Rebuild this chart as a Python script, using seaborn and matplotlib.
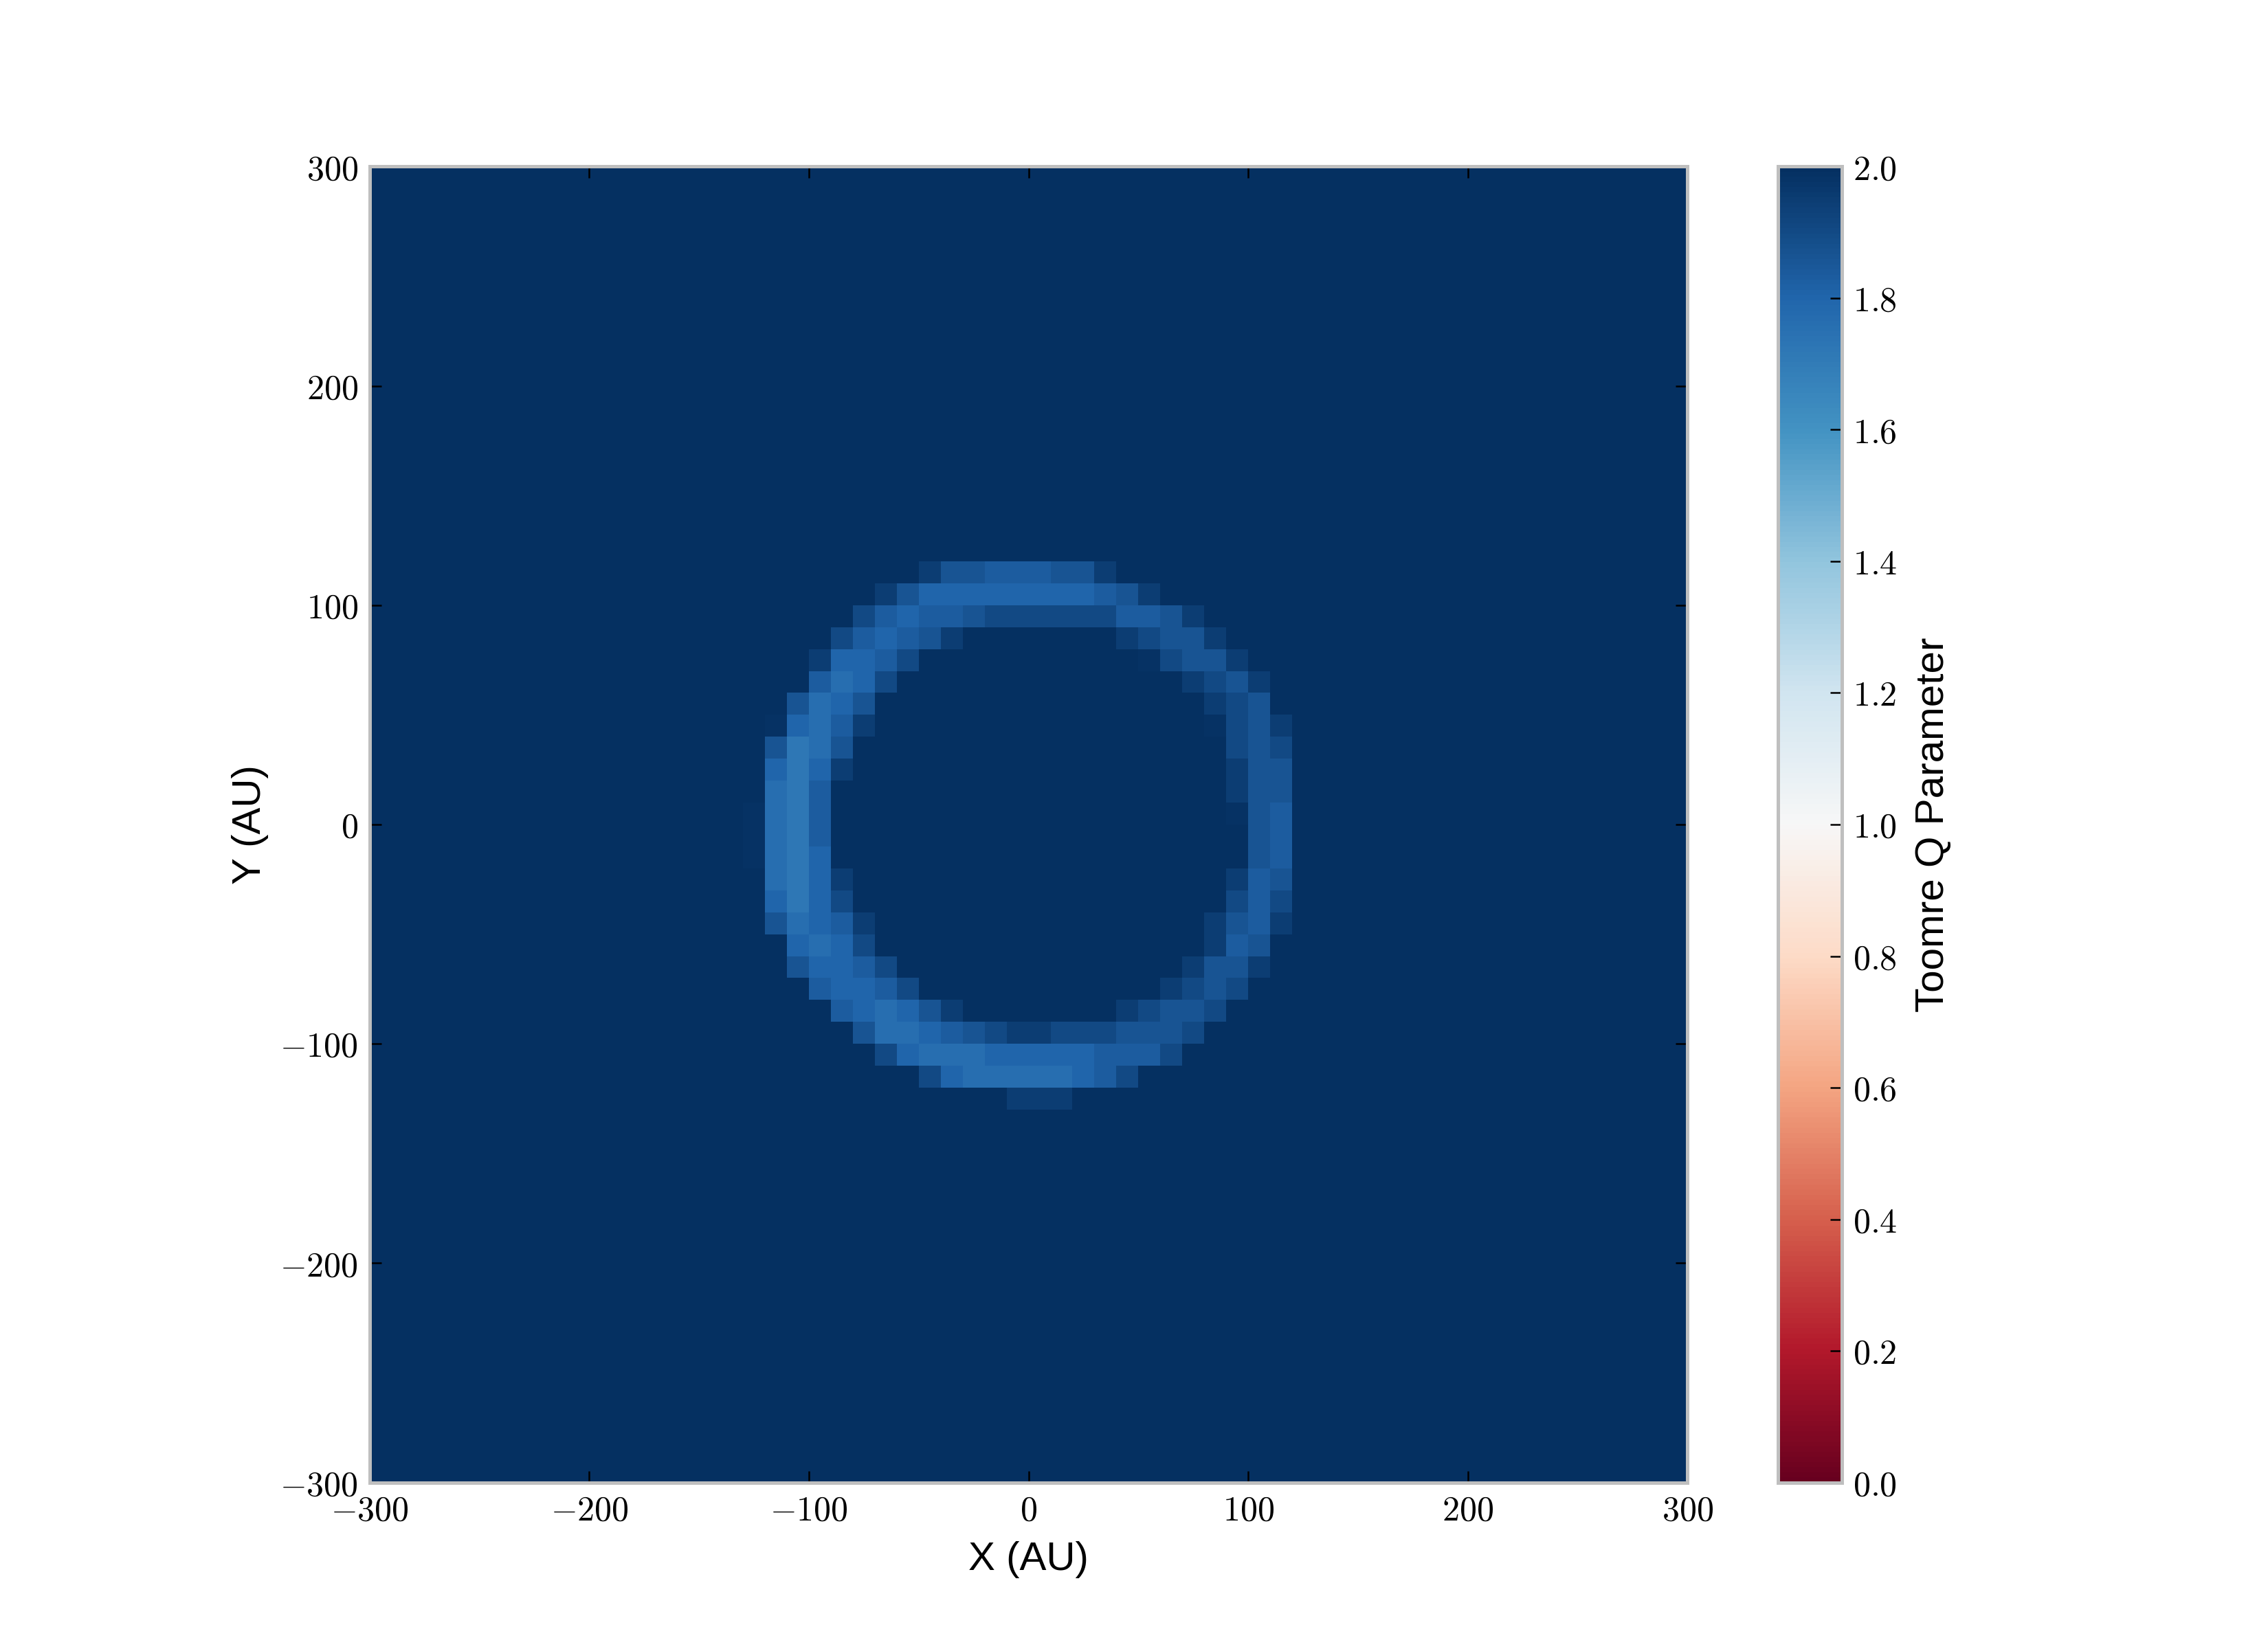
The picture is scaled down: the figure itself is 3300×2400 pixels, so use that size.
import numpy as np
import pandas as pd
import seaborn as sns
import matplotlib.pyplot as plt

# Toomre Q map: 60 x 60 cells of 10 AU from -300 to 300 AU
cell_au = 10
extent_au = 300
q_background = 2.0

# codes used in the ring map below -> Q value
q_levels = {'.': 2.0, '0': 1.985, '1': 1.95, '2': 1.90, '3': 1.86,
            '4': 1.83, '5': 1.80, '6': 1.76, '7': 1.72}

# ring block, rows from y=130 down to y=-130, columns from x=-130 to x=130
ring_left_au = -130
ring_top_au = 130
ring_map = [
    "..........................",
    "........133444331.........",
    "......1355555555431.......",
    ".....2454432222224431.....",
    "....245431.......12331....",
    "...15542..........02331...",
    "...4652.............1231..",
    "..3653...............123..",
    ".05641...............0231.",
    ".3763.................232.",
    ".5751.................133.",
    ".674..................133.",
    "0674..................034.",
    "0674...................34.",
    "0675...................34.",
    ".6751.................143.",
    ".5752.................242.",
    ".36541...............1341.",
    "..5652...............143..",
    "..35542.............1331..",
    "...45542...........1232...",
    "....456531.......12332....",
    ".....3665432112223332.....",
    "......25666555554442......",
    "........2566666542........",
    "............111...........",
]

x_ticks = [-300, -200, -100, 0, 100, 200, 300]
y_ticks = [300, 200, 100, 0, -100, -200, -300]
cbar_ticks = [0.0, 0.2, 0.4, 0.6, 0.8, 1.0, 1.2, 1.4, 1.6, 1.8, 2.0]

n = 2 * extent_au // cell_au
q = np.full((n, n), q_background)
r0 = (extent_au - ring_top_au) // cell_au
c0 = (ring_left_au + extent_au) // cell_au
for i, row in enumerate(ring_map):
    for j, ch in enumerate(row):
        q[r0 + i, c0 + j] = q_levels[ch]

centres = np.arange(-extent_au + cell_au / 2, extent_au, cell_au)
df = pd.DataFrame(q, index=centres[::-1], columns=centres)

plt.rcParams['mathtext.fontset'] = 'cm'
sans = ['Liberation Sans', 'DejaVu Sans']

fig = plt.figure(figsize=(11, 8), dpi=300)
ax = fig.add_axes([0.163, 0.101, 0.581, 0.798])
cax = fig.add_axes([0.784, 0.101, 0.028, 0.798])

sns.heatmap(df, ax=ax, cbar_ax=cax, cmap='RdBu', vmin=0, vmax=2,
            xticklabels=False, yticklabels=False)

edge = '#bfbfbf'
for s in ax.spines.values():
    s.set_visible(True)
    s.set_color(edge)
    s.set_linewidth(1.2)

ax.set_xticks([(t + extent_au) / cell_au for t in x_ticks])
ax.set_xticklabels([r'$%d$' % t for t in x_ticks], rotation=0)
ax.set_yticks([(extent_au - t) / cell_au for t in y_ticks])
ax.set_yticklabels([r'$%d$' % t for t in y_ticks], rotation=0)
ax.tick_params(direction='in', top=True, right=True, bottom=True, left=True,
               length=4, width=0.6, color='black', labelsize=12, pad=4)
ax.set_xlabel('X (AU)', fontsize=14, family=sans, labelpad=5)
ax.set_ylabel('Y (AU)', fontsize=14, family=sans, labelpad=4)

cb = ax.collections[0].colorbar
cb.outline.set_visible(True)
cb.outline.set_edgecolor(edge)
cb.outline.set_linewidth(1.2)
cb.set_ticks(cbar_ticks)
cb.set_ticklabels([r'$%.1f$' % t for t in cbar_ticks])
cax.tick_params(direction='in', length=4, width=0.6, color='black',
                labelsize=12, pad=4)
cb.set_label('Toomre Q Parameter', fontsize=14, family=sans, labelpad=6)

fig.savefig('out.png', dpi=300)
